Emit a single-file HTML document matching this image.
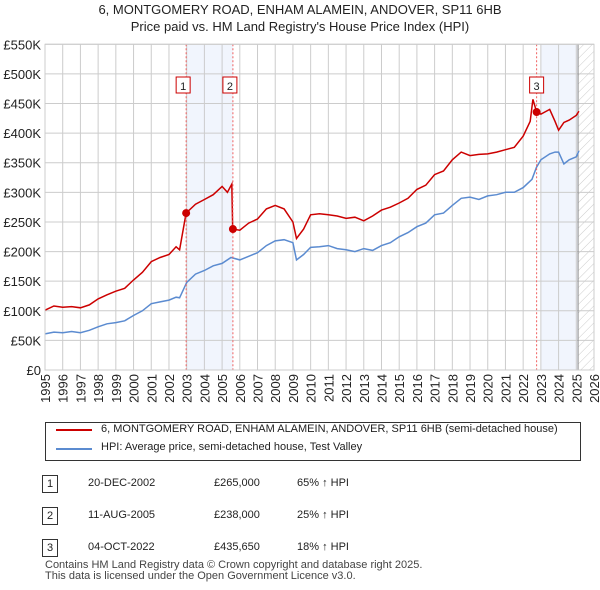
<!DOCTYPE html>
<html><head><meta charset="utf-8"><style>
body{margin:0;width:600px;height:590px;background:#fff;font-family:"Liberation Sans",sans-serif;overflow:hidden}
.t{position:absolute;left:0;width:600px;text-align:center;font-size:13px;color:#222}
</style></head><body>
<div class="t" style="top:2px">6, MONTGOMERY ROAD, ENHAM ALAMEIN, ANDOVER, SP11 6HB</div>
<div class="t" style="top:19px">Price paid vs. HM Land Registry's House Price Index (HPI)</div>
<svg id="c" width="600" height="590" style="position:absolute;left:0;top:0" font-family="Liberation Sans, sans-serif">
<defs><pattern id="h" width="6" height="6" patternUnits="userSpaceOnUse" patternTransform="rotate(45)"><line x1="0" y1="0" x2="0" y2="6" stroke="#ccc" stroke-width="1"/></pattern></defs>
</svg>
<div style="position:absolute;left:45px;top:422px;width:534px;height:37px;border:1px solid #333;font-size:11px;color:#222">
<div style="position:absolute;left:10px;top:6px;width:36px;border-top:2px solid #cc0000"></div>
<div style="position:absolute;left:55px;top:0px">6, MONTGOMERY ROAD, ENHAM ALAMEIN, ANDOVER, SP11 6HB (semi-detached house)</div>
<div style="position:absolute;left:10px;top:25px;width:36px;border-top:2px solid #5b8bd0"></div>
<div style="position:absolute;left:55px;top:18px">HPI: Average price, semi-detached house, Test Valley</div>
</div>
<div style="font-size:11px;color:#222">
<div style="position:absolute;left:42px;top:475px;width:14px;height:16px;border:1px solid #333;text-align:center;line-height:16px">1</div>
<div style="position:absolute;left:88px;top:477px">20-DEC-2002</div><div style="position:absolute;left:214px;top:477px">£265,000</div><div style="position:absolute;left:297px;top:477px">65% ↑ HPI</div>
<div style="position:absolute;left:42px;top:507px;width:14px;height:16px;border:1px solid #333;text-align:center;line-height:16px">2</div>
<div style="position:absolute;left:88px;top:509px">11-AUG-2005</div><div style="position:absolute;left:214px;top:509px">£238,000</div><div style="position:absolute;left:297px;top:509px">25% ↑ HPI</div>
<div style="position:absolute;left:42px;top:539px;width:14px;height:16px;border:1px solid #333;text-align:center;line-height:16px">3</div>
<div style="position:absolute;left:88px;top:541px">04-OCT-2022</div><div style="position:absolute;left:214px;top:541px">£435,650</div><div style="position:absolute;left:297px;top:541px">18% ↑ HPI</div>
</div>
<div style="position:absolute;left:45px;top:560px;font-size:11px;color:#444;line-height:11px">Contains HM Land Registry data © Crown copyright and database right 2025.<br>This data is licensed under the Open Government Licence v3.0.</div>
<script>
const yTicks=[0,50,100,150,200,250,300,350,400,450,500,550];
const years=[1995,1996,1997,1998,1999,2000,2001,2002,2003,2004,2005,2006,2007,2008,2009,2010,2011,2012,2013,2014,2015,2016,2017,2018,2019,2020,2021,2022,2023,2024,2025,2026];
const hpiT=[1995,1995.5,1996,1996.5,1997,1997.5,1998,1998.5,1999,1999.5,2000,2000.5,2001,2001.5,2002,2002.4,2002.6,2003,2003.5,2004,2004.5,2005,2005.5,2006,2006.5,2007,2007.5,2008,2008.5,2009,2009.2,2009.6,2010,2010.5,2011,2011.5,2012,2012.5,2013,2013.5,2014,2014.5,2015,2015.5,2016,2016.5,2017,2017.5,2018,2018.5,2019,2019.5,2020,2020.5,2021,2021.5,2022,2022.5,2022.75,2023,2023.5,2023.8,2024,2024.3,2024.6,2025,2025.15];
const hpiV=[61,64,63,65,63,67,73,78,80,83,92,100,112,115,118,123,122,148,162,168,176,180,190,186,192,198,210,218,220,215,186,195,207,208,210,205,203,200,205,202,210,215,225,232,242,248,262,265,278,290,292,288,294,296,300,300,308,322,342,355,365,368,368,348,355,360,370];
const redT=[1995,1995.5,1996,1996.5,1997,1997.5,1998,1998.5,1999,1999.5,2000,2000.5,2001,2001.5,2002,2002.4,2002.6,2002.97,2003.5,2004,2004.5,2005,2005.3,2005.55,2005.6,2006,2006.5,2007,2007.5,2008,2008.5,2009,2009.2,2009.6,2010,2010.5,2011,2011.5,2012,2012.5,2013,2013.5,2014,2014.5,2015,2015.5,2016,2016.5,2017,2017.5,2018,2018.5,2019,2019.5,2020,2020.5,2021,2021.5,2022,2022.4,2022.55,2022.76,2023,2023.5,2023.8,2024,2024.3,2024.6,2025,2025.15];
const redV=[101,108,106,107,105,110,120,127,133,138,152,165,183,190,195,208,203,265,280,288,296,310,300,314,238,236,248,255,272,278,272,250,222,238,262,264,262,260,256,258,252,260,270,275,282,290,305,312,330,336,355,368,362,364,365,368,372,376,395,420,457,436,432,440,420,405,418,422,430,437];
const sales=[[2002.97,265,'1'],[2005.61,238,'2'],[2022.76,435.65,'3']];
const X0=45,X1=594,Y0=370,Y1=44.3;
const xs=y=>X0+(y-1995)/(2026-1995)*(X1-X0);
const ys=v=>Y0-v/550*(Y0-Y1);
const svg=document.getElementById('c');const NS='http://www.w3.org/2000/svg';
function mk(t,a,p){const e=document.createElementNS(NS,t);for(const k in a)e.setAttribute(k,a[k]);(p||svg).appendChild(e);return e;}
let e;
e=mk('rect',{x:xs(2002.97),y:Y1,width:xs(2005.61)-xs(2002.97),height:Y0-Y1,fill:'#eef3fc',opacity:0.8});


e=mk('rect',{x:xs(2023),y:Y1,width:xs(2025.1)-xs(2023),height:Y0-Y1,fill:'#eef3fc',opacity:0.8});


e=mk('rect',{x:xs(2025.1),y:Y1,width:X1-xs(2025.1),height:Y0-Y1,fill:'url(#h)'});


yTicks.forEach(v=>{
 e=mk('line',{x1:X0,x2:X1,y1:ys(v*1000/1000),y2:ys(v),stroke:'#ccc'});
 
 
 e=mk('text',{x:X0-4,y:ys(v)+5,'text-anchor':'end','font-size':13,fill:'#222'});
 e.textContent=v===0?'£0':'£'+v+'K';
 
 
});
years.forEach(y=>{
 e=mk('line',{x1:xs(y),x2:xs(y),y1:Y1,y2:Y0,stroke:'#ccc'});
 
 
 e=mk('text',{x:0,y:0,'text-anchor':'end','font-size':13,fill:'#222',transform:`translate(${xs(y)+5},${Y0+4}) rotate(-90)`});
 e.textContent=y;
 
 
});
e=mk('line',{x1:xs(2025.1),x2:xs(2025.1),y1:Y1,y2:Y0,stroke:'#888'});


function line(T,V,col,name){const d=T.map((t,i)=>(i?'L':'M')+xs(t).toFixed(1)+','+ys(V[i]).toFixed(1)).join('');
 const p=mk('path',{d,fill:'none',stroke:col,'stroke-width':1.5});
 
 }
line(hpiT,hpiV,'#5b8bd0','hpi-line');
line(redT,redV,'#cc0000','property-price-line');
sales.forEach(s=>{
 e=mk('line',{x1:xs(s[0]),x2:xs(s[0]),y1:Y1,y2:Y0,stroke:'#f06060','stroke-dasharray':'2,2'});
 
 
 e=mk('circle',{cx:xs(s[0]),cy:ys(s[1]),r:4,fill:'#cc0000'});
 
 
 const bx=xs(s[0])-(s[2]==='3'?0:3);
 e=mk('rect',{x:bx-7,y:77,width:14,height:16,fill:'#fff',stroke:'#cc0000'});
 
 
 e=mk('text',{x:bx,y:90,'text-anchor':'middle','font-size':11,fill:'#222'});
 e.textContent=s[2];
 
 
});
e=mk('rect',{x:X0,y:Y1,width:X1-X0,height:Y0-Y1,fill:'none',stroke:'#ccc'});


</script>
</body></html>
